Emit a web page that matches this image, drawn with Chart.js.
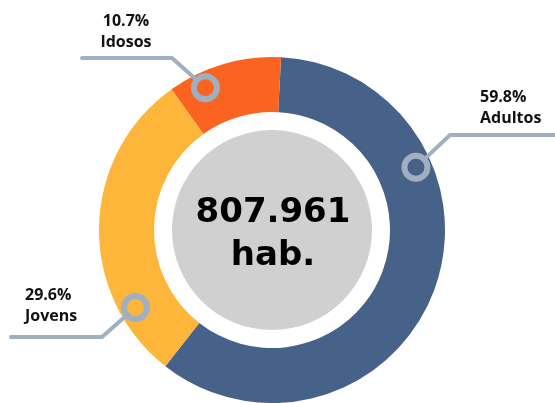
<!DOCTYPE html>
<html>
<head>
<meta charset="utf-8">
<script src="https://cdn.jsdelivr.net/npm/chart.js@4.4.1/dist/chart.umd.min.js"></script>
<style>
  html, body { margin: 0; padding: 0; background: #fff; overflow: hidden; }
  #wrap { width: 555px; height: 403px; }
</style>
</head>
<body>
<div id="wrap"><canvas id="pie" width="555" height="403"></canvas></div>
<script>
// chart data
var categories = ["Adultos", "Jovens", "Idosos"];
var percentValues = [59.8, 29.6, 10.7];
var percentLabels = ["59.8%", "29.6%", "10.7%"];
var totalLabel = ["807.961", "hab."];

var sliceColors = ["#466289", "#FDB53A", "#FB6320"];
var leaderColor = "#A1AFC3";

// callouts: where the marker sits on the slice and where the leader goes
var callouts = [
  { frac: 0.295, elbow: [450, 135], end: [560, 135], text: [480, 97], align: "left" },
  { frac: 0.21,  elbow: [102, 337], end: [11, 337],  text: [25, 295], align: "left" },
  { frac: 0.27,  elbow: [172, 58],  end: [82, 58],   text: [126, 21], align: "center" }
];

var calloutPlugin = {
  id: "callouts",
  beforeDatasetsDraw: function(chart) {
    var ctx = chart.ctx;
    var arc = chart.getDatasetMeta(0).data[0];
    ctx.save();
    ctx.fillStyle = "#D0D0D0";
    ctx.beginPath();
    ctx.arc(arc.x, arc.y, 100, 0, Math.PI * 2);
    ctx.fill();
    ctx.restore();
  },
  afterDatasetsDraw: function(chart) {
    var ctx = chart.ctx;
    var arcs = chart.getDatasetMeta(0).data;
    ctx.save();

    // center text
    var cx = arcs[0].x, cy = arcs[0].y;
    ctx.fillStyle = "#000";
    ctx.textAlign = "center";
    ctx.textBaseline = "alphabetic";
    ctx.font = "bold 34px 'DejaVu Sans'";
    ctx.fillText(totalLabel[0], cx + 1, cy - 8);
    ctx.fillText(totalLabel[1], cx + 1, cy + 35);

    for (var i = 0; i < arcs.length; i++) {
      var a = arcs[i];
      var c = callouts[i];
      var ang = a.startAngle + (a.endAngle - a.startAngle) * c.frac;
      var r = 157;
      var mx = a.x + Math.cos(ang) * r;
      var my = a.y + Math.sin(ang) * r;

      // leader line
      var dx = c.elbow[0] - mx, dy = c.elbow[1] - my;
      var len = Math.sqrt(dx * dx + dy * dy);
      ctx.strokeStyle = leaderColor;
      ctx.lineWidth = 4;
      ctx.lineCap = "round";
      ctx.lineJoin = "round";
      ctx.beginPath();
      ctx.moveTo(mx + dx / len * 14, my + dy / len * 14);
      ctx.lineTo(c.elbow[0], c.elbow[1]);
      ctx.lineTo(c.end[0], c.end[1]);
      ctx.stroke();

      // marker ring
      ctx.lineWidth = 6;
      ctx.beginPath();
      ctx.arc(mx, my, 11.5, 0, Math.PI * 2);
      ctx.stroke();

      // label
      ctx.fillStyle = "#111";
      ctx.font = "bold 16px 'Open Sans'";
      ctx.textAlign = c.align;
      ctx.textBaseline = "middle";
      ctx.fillText(percentLabels[i], c.text[0], c.text[1]);
      ctx.fillText(categories[i], c.text[0], c.text[1] + 21);
    }
    ctx.restore();
  }
};

new Chart(document.getElementById("pie"), {
  type: "doughnut",
  data: {
    labels: categories,
    datasets: [{
      data: percentValues,
      backgroundColor: sliceColors,
      borderWidth: 0,
      hoverOffset: 0
    }]
  },
  options: {
    responsive: false,
    animation: false,
    rotation: 3,
    cutout: 118,
    layout: { padding: { top: 57, bottom: 0, left: 0, right: 11 } },
    plugins: {
      legend: { display: false },
      tooltip: { enabled: false }
    },
    events: []
  },
  plugins: [calloutPlugin]
});
</script>
</body>
</html>
